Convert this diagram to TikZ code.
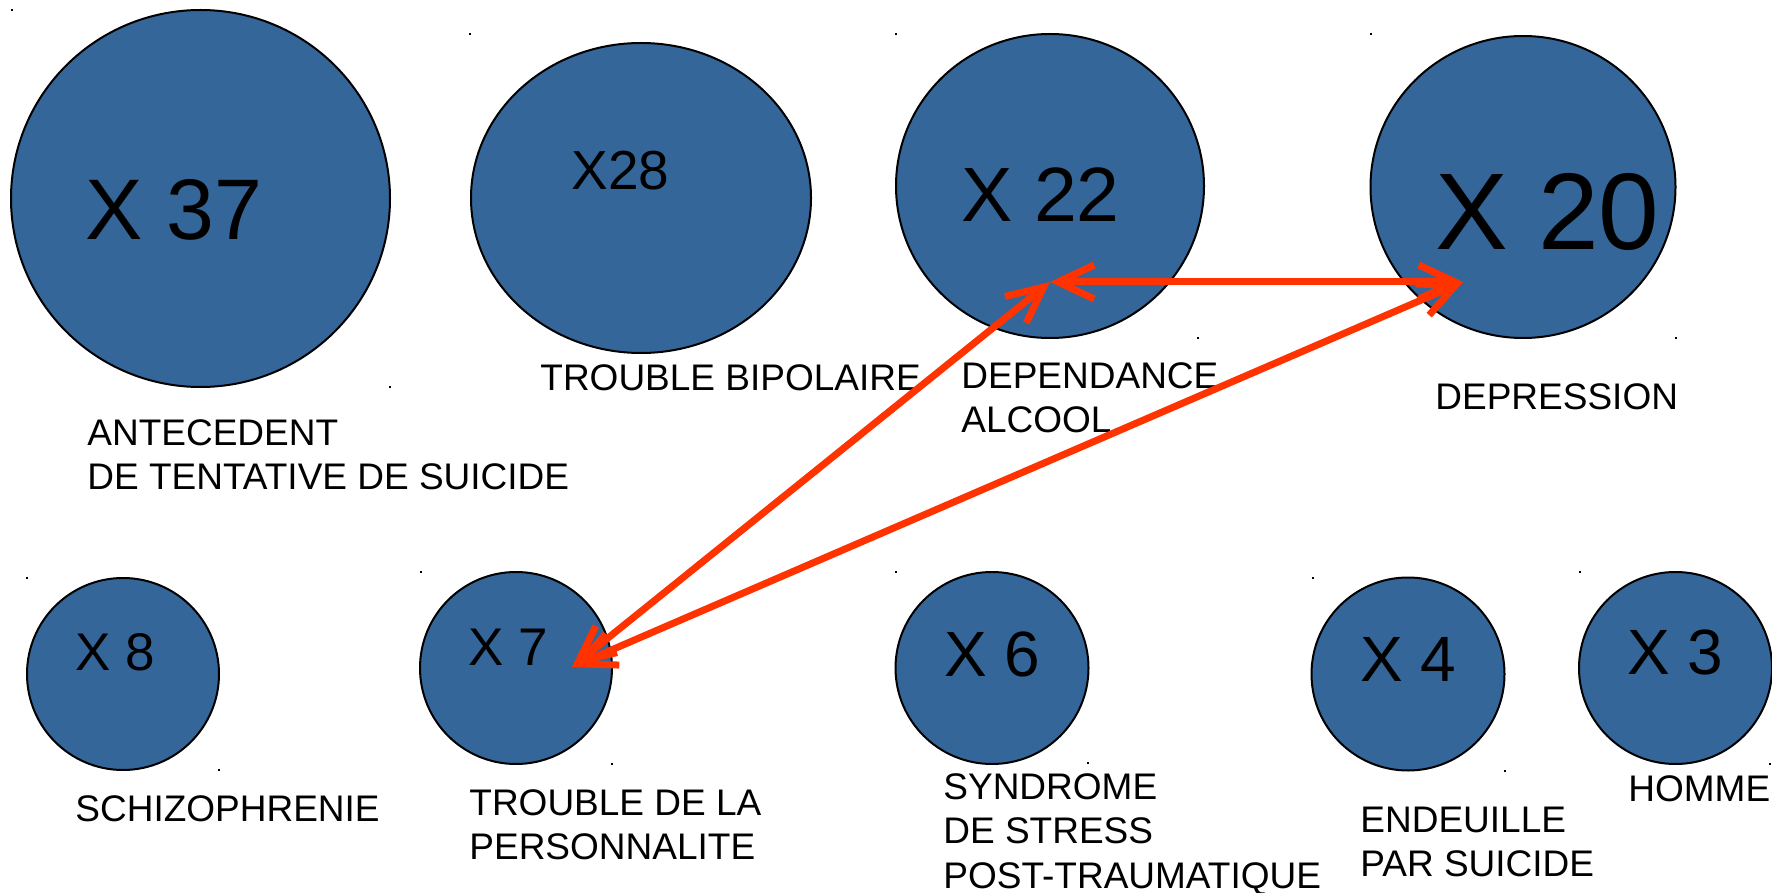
\documentclass[tikz,border=0pt]{standalone}
\usepackage{fontspec}
\setmainfont{Liberation Sans}
\usetikzlibrary{shapes.geometric,arrows.meta}
\definecolor{bubblefill}{RGB}{52,102,153}
\definecolor{linkred}{RGB}{255,51,0}
\begin{document}
\begin{tikzpicture}[x=0.5pt,y=-0.5pt,
  bubble/.style={ellipse,draw=black,line width=1pt,fill=bubblefill,inner sep=0pt},
  count/.style={anchor=base west,inner sep=0pt,text=black},
  % multi-line captions are placed by the baseline of their last line
  caption/.style={anchor=base west,inner sep=0pt,align=left,
    font=\fontsize{18.5}{22}\selectfont},
  speck/.style={fill=black,minimum size=1pt,inner sep=0pt},
  linkarrow/.style={draw=linkred,line width=3.5pt,
    {Straight Barb[length=18pt,width=17pt]}-{Straight Barb[length=18pt,width=17pt]}}
]
\useasboundingbox (0,0) rectangle (1772,893);

% bubbles
\node[bubble,minimum width=189.5pt,minimum height=188.5pt] (c37) at (200.5,198.5) {};
\node[bubble,minimum width=170pt,minimum height=155pt] (c28) at (641,198) {};
\node[bubble,minimum width=154pt,minimum height=152pt] (c22) at (1050,186) {};
\node[bubble,minimum width=152.5pt,minimum height=151pt] (c20) at (1523,187) {};
\node[bubble,minimum width=96pt,minimum height=96pt] (c8) at (123,674) {};
\node[bubble,minimum width=96pt,minimum height=96pt] (c7) at (516,668) {};
\node[bubble,minimum width=96.5pt,minimum height=96pt] (c6) at (992,668) {};
\node[bubble,minimum width=96.5pt,minimum height=96.5pt] (c4) at (1408,674) {};
\node[bubble,minimum width=96.5pt,minimum height=96pt] (c3) at (1675.5,668) {};

% counts
\node[count,font=\fontsize{43}{50}\selectfont] (n37) at (85,240) {X 37};
\node[count,font=\fontsize{27.5}{32}\selectfont] (n28) at (571,190) {X28};
\node[count,font=\fontsize{38.5}{45}\selectfont] (n22) at (961,221.5) {X 22};
\node[count,font=\fontsize{54.5}{62}\selectfont] (n20) at (1435,250) {X 20};
\node[count,font=\fontsize{26.5}{31}\selectfont] (n8) at (75,670) {X 8};
\node[count,font=\fontsize{26.5}{31}\selectfont] (n7) at (468,665) {X 7};
\node[count,font=\fontsize{32}{38}\selectfont] (n6) at (944,676) {X 6};
\node[count,font=\fontsize{32}{38}\selectfont] (n4) at (1360,681) {X 4};
\node[count,font=\fontsize{32}{38}\selectfont] (n3) at (1627,674) {X 3};

% captions
\node[caption] (t37) at (87,489) {ANTECEDENT\\DE TENTATIVE DE SUICIDE};
\node[caption] (t28) at (540,390) {TROUBLE BIPOLAIRE};
\node[caption] (t22) at (961,432) {DEPENDANCE\\ALCOOL};
\node[caption] (t20) at (1435,409) {DEPRESSION};
\node[caption] (t8) at (75,821) {SCHIZOPHRENIE};
\node[caption] (t7) at (469,859) {TROUBLE DE LA\\PERSONNALITE};
\node[caption,font=\fontsize{18.5}{22.25}\selectfont] (t6) at (943,888) {SYNDROME\\DE STRESS\\POST-TRAUMATIQUE};
\node[caption] (t4) at (1360,876) {ENDEUILLE\\PAR SUICIDE};
\node[caption] (t3) at (1628,801) {HOMME};

% small corner specks
\foreach \px/\py [count=\i] in {12/10,470/34,896/34,1371/34,390/387,1198/338,1676/338,
  27/578,421/572,896/572,1313/578,1580/572,219/770,612/764,1088/763,1505/771,1770/764}
  \node[speck] (s\i) at (\px,\py) {};

% links
\coordinate (p22) at (1050,282);
\coordinate (p20) at (1463,282);
\coordinate (p7) at (572,667);
\draw[linkarrow] (p22) -- (p20);
\draw[linkarrow] (p7) -- (p22);
\draw[linkarrow] (p7) -- (p20);
\end{tikzpicture}
\end{document}
